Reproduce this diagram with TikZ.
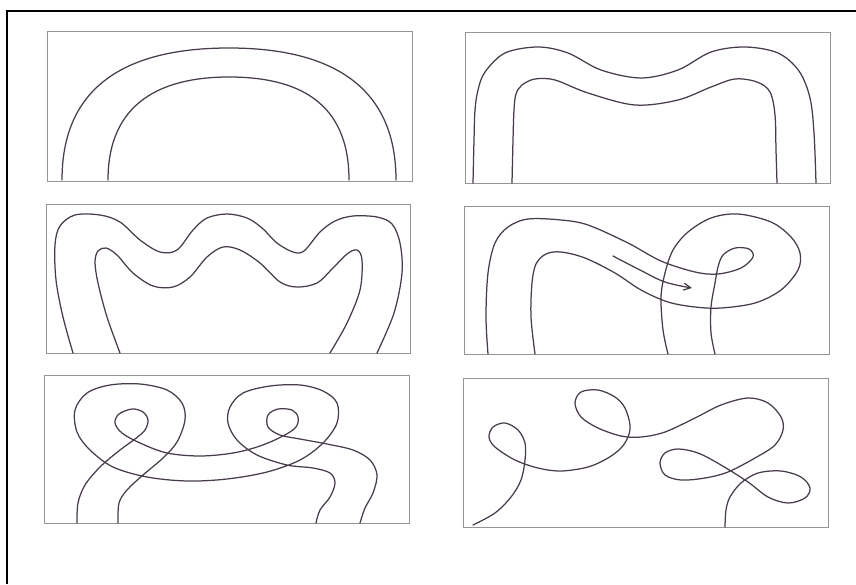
\documentclass[tikz,border=0pt]{standalone}
\usetikzlibrary{arrows.meta}
\definecolor{boxgray}{RGB}{150,146,152}
\definecolor{inkcol}{RGB}{72,60,76}
\tikzset{
  panel/.style={draw=boxgray, line width=0.9pt},
  strand/.style={draw=inkcol, line width=1.25pt, line cap=round, line join=round},
  frameline/.style={draw=black, line width=2pt},
}
\begin{document}
\begin{tikzpicture}[x=1pt,y=-1pt]
\useasboundingbox (0,0) rectangle (856,584);
% outer frame (top and left only)
\draw[frameline] (7,584) -- (7,11) -- (856,11);

% panel boxes
\draw[panel] (47,31) rectangle (412,181);
\draw[panel] (465,32) rectangle (830,183);
\draw[panel] (46,204) rectangle (410,353);
\draw[panel] (464,206) rectangle (829,354);
\draw[panel] (44,375) rectangle (409,523);
\draw[panel] (463,378) rectangle (828,527);

% ---------- Panel 1: plain arch ----------
\draw[strand] (62,180) .. controls (62,82) and (132,48) .. (229,48)
  .. controls (328,48) and (396,84) .. (396,180);
\draw[strand] (108,180) .. controls (108,102) and (162,77) .. (229,77)
  .. controls (298,77) and (349,102) .. (349,180);

% ---------- Panel 2: wavy arch ----------
\draw[strand] plot[smooth, tension=0.55] coordinates {
 (473,183) (474,140) (475,110) (478,90) (485,72) (505,53) (538,47) (568,53)
 (601,70) (641,78) (678,70) (711,52) (745,47) (778,53) (799,71) (810,98)
 (814,133) (816,183)};
\draw[strand] plot[smooth, tension=0.55] coordinates {
 (512,183) (513,140) (514,110) (516,94) (522,85) (535,79) (555,80) (588,93)
 (635,105) (678,100) (711,87) (735,79) (757,82) (770,92) (775,115) (776,150)
 (777,183)};

% ---------- Panel 3: three waves ----------
\draw[strand] plot[smooth, tension=0.55] coordinates {
 (73,353) (63,317) (56,280) (55,245) (60,226) (75,215) (100,215) (120,222)
 (140,240) (160,252) (177,250) (193,230) (207,218) (227,214) (247,218)
 (262,228) (277,243) (293,252) (304,251) (320,232) (335,221) (353,216)
 (377,217) (392,224) (400,243) (402,273) (394,313) (377,353)};
\draw[strand] plot[smooth, tension=0.55] coordinates {
 (120,353) (107,317) (98,283) (95,262) (98,251) (106,248) (117,255)
 (133,273) (153,286) (173,287) (190,277) (207,257) (223,247) (240,250)
 (260,263) (280,282) (297,287) (317,283) (333,268) (347,254) (357,250)
 (362,260) (360,290) (347,323) (330,353)};

% ---------- Panel 4: loop with arrow ----------
\draw[strand] plot[smooth, tension=0.55] coordinates {
 (488,354) (486,317) (488,273) (495,243) (508,227) (528,219) (561,220)
 (588,225) (628,243) (661,261) (695,272) (718,274) (741,268) (753,257)
 (749,249) (735,248) (723,255) (718,267) (715,283) (711,307) (711,333)
 (715,354)};
\draw[strand] plot[smooth, tension=0.55] coordinates {
 (535,354) (531,317) (532,283) (536,264) (546,254) (561,252) (585,258)
 (615,273) (641,290) (668,302) (695,307) (721,308) (755,303) (781,290)
 (798,270) (800,253) (791,237) (771,222) (738,214) (711,218) (688,232)
 (673,250) (665,273) (661,297) (663,330) (668,354)};
\draw[strand, -{Straight Barb[length=7pt,width=7pt]}] plot[smooth, tension=0.6] coordinates {
 (613,256) (640,270) (665,282) (692,288)};

% ---------- Panel 5: two loops ----------
\draw[strand] plot[smooth, tension=0.55] coordinates {
 (77,523) (78,503) (85,485) (100,467) (120,450) (135,439) (145,430)
 (148,420) (143,412) (132,409) (119,414) (115,423) (122,433) (140,443)
 (167,453) (200,456) (233,453) (260,446) (283,436) (296,427) (298,417)
 (292,410) (278,409) (268,415) (268,427) (280,435) (300,439) (327,444)
 (353,450) (370,460) (377,475) (373,493) (365,508) (360,523)};
\draw[strand] plot[smooth, tension=0.55] coordinates {
 (118,523) (119,503) (127,490) (143,475) (163,458) (177,442) (185,420)
 (182,403) (167,390) (140,384) (110,385) (87,393) (75,410) (77,432)
 (90,450) (113,467) (147,477) (187,481) (227,479) (267,472) (300,460)
 (323,443) (337,423) (337,403) (323,391) (300,385) (270,386) (243,393)
 (230,407) (228,423) (237,440) (257,455) (287,465) (313,468) (330,473)
 (335,483) (330,497) (320,510) (316,523)};

% ---------- Panel 6: single free strand ----------
\draw[strand] plot[smooth, tension=0.55] coordinates {
 (473,525) (495,513) (511,497) (521,480) (525,460) (525,443) (518,430)
 (505,423) (493,427) (489,437) (495,447) (515,460) (538,468) (561,471)
 (588,467) (608,458) (621,448) (628,437) (630,425) (625,408) (615,397)
 (598,390) (581,392) (575,403) (581,417) (598,428) (621,436) (641,437)
 (665,432) (695,418) (721,405) (748,398) (768,403) (781,417) (783,430)
 (775,445) (755,458) (728,472) (705,478) (681,480) (665,475) (660,463)
 (665,453) (678,449) (698,453) (721,465) (748,482) (768,497) (788,503)
 (805,498) (810,488) (801,477) (781,471) (758,473) (741,483) (730,497)
 (726,510) (725,527)};
\end{tikzpicture}
\end{document}
